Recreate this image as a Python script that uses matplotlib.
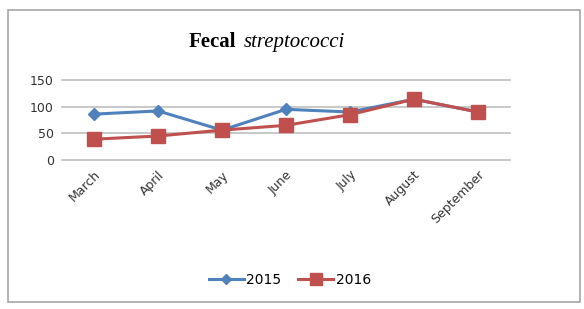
import matplotlib.pyplot as plt
from matplotlib.patches import Rectangle

months = ["March", "April", "May", "June", "July", "August", "September"]
y2015 = [86, 92, 56, 95, 90, 114, 90]
y2016 = [39, 45, 56, 65, 85, 114, 90]
yticks = [0, 50, 100, 150]

fig = plt.figure(figsize=(5.84, 3.09), dpi=100)
ax = fig.add_axes([62/584, 1-160/309, 448/584, 80/309])

x = range(len(months))
ax.plot(x, y2015, color="#4F81BD", lw=2.2, marker="D", ms=6, label="2015", zorder=3)
ax.plot(x, y2016, color="#C0504D", lw=2.2, marker="s", ms=10, label="2016", zorder=4)

ax.set_xlim(-0.5, len(months) - 0.5)
ax.set_ylim(0, 150)
ax.set_yticks(yticks)
ax.set_yticklabels([str(v) for v in yticks], fontsize=9, color="#333333")
ax.set_xticks(list(x))
ax.set_xticklabels(months, rotation=45, ha="right", rotation_mode="anchor",
                   fontsize=9, color="#333333")
ax.tick_params(length=0, pad=6)
for v in yticks:
    ax.axhline(v, color="#BFBFBF", lw=1.2, zorder=1, clip_on=False)
for s in ax.spines.values():
    s.set_visible(False)

# title in two pieces: bold + italic
fig.text(236/584, 1-42/309, "Fecal", fontsize=15, fontweight="bold",
         family="Liberation Serif", ha="right", va="center")
fig.text(244/584, 1-42/309, "streptococci", fontsize=15, style="italic",
         family="Liberation Serif", ha="left", va="center")

fig.legend(loc="center", bbox_to_anchor=(290/584, 1-280/309), ncol=2,
           frameon=False, fontsize=10, handlelength=2.5, columnspacing=1.2,
           handletextpad=0.2, markerscale=0.8)

fig.patches.append(Rectangle((8/584, 1-302/309), 572/584, 292/309,
                             transform=fig.transFigure, fill=False,
                             edgecolor="#A6A6A6", lw=1.2))

fig.savefig("out.png", dpi=100)
